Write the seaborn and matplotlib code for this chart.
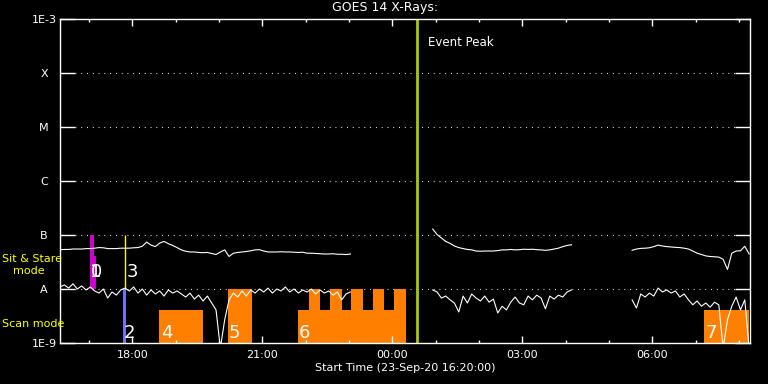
import numpy as np
import pandas as pd
import matplotlib
matplotlib.use("Agg")
import matplotlib.pyplot as plt
import seaborn as sns
from matplotlib.ticker import NullLocator
from matplotlib.transforms import blended_transform_factory

plt.rcParams["font.family"] = ["DejaVu Sans"]

# ---------------- data (hours since 23-Sep-20 16:20) ----------------
t_seg1 = [0.0, 0.1, 0.2, 0.3, 0.4, 0.5, 0.6, 0.7, 0.8, 0.9,
          1.0, 1.1, 1.2, 1.3, 1.4, 1.5, 1.6, 1.7, 1.8, 1.9,
          2.0, 2.1, 2.2, 2.3, 2.4, 2.5, 2.6, 2.7, 2.8, 2.9,
          3.0, 3.1, 3.2, 3.3, 3.4, 3.5, 3.6, 3.7, 3.8, 3.9,
          4.0, 4.1, 4.2, 4.3, 4.4, 4.5, 4.6, 4.7, 4.8, 4.9,
          5.0, 5.1, 5.2, 5.3, 5.4, 5.5, 5.6, 5.7, 5.8, 5.9,
          6.0, 6.1, 6.2, 6.3, 6.4, 6.5, 6.6, 6.7]
long_seg1 = [5.35e-8, 5.4e-8, 5.4e-8, 5.5e-8, 5.5e-8, 5.5e-8, 5.6e-8, 5.6e-8, 5.7e-8, 5.85e-8,
             5.8e-8, 5.6e-8, 5.6e-8, 5.6e-8, 5.7e-8, 5.7e-8, 5.7e-8, 5.8e-8, 5.85e-8, 6.2e-8,
             7.4e-8, 6.5e-8, 6.1e-8, 7.1e-8, 7.6e-8, 6.9e-8, 6.4e-8, 5.85e-8, 5.3e-8, 5.0e-8,
             4.85e-8, 4.85e-8, 4.75e-8, 4.7e-8, 4.75e-8, 4.55e-8, 4.35e-8, 4.85e-8, 5.3e-8, 4.0e-8,
             4.6e-8, 4.75e-8, 4.85e-8, 4.95e-8, 5.1e-8, 5.3e-8, 5.35e-8, 5.05e-8, 4.85e-8, 4.85e-8,
             4.85e-8, 4.9e-8, 4.85e-8, 4.85e-8, 4.8e-8, 4.75e-8, 4.8e-8, 4.6e-8, 4.6e-8, 4.55e-8,
             4.5e-8, 4.45e-8, 4.45e-8, 4.5e-8, 4.4e-8, 4.4e-8, 4.35e-8, 4.45e-8]
short_seg1 = [1.09e-8, 1.19e-8, 1.04e-8, 1.25e-8, 1.0e-8, 1.14e-8, 9.6e-9, 1.09e-8, 9.2e-9, 8.4e-9,
              1.0e-8, 6.8e-9, 8.8e-9, 7.7e-9, 9.6e-9, 1.04e-8, 9.2e-9, 1.09e-8, 8.4e-9, 1.0e-8,
              7.7e-9, 9.6e-9, 8.1e-9, 9.2e-9, 7.4e-9, 9.6e-9, 8.4e-9, 9.2e-9, 8.1e-9, 7.1e-9,
              8.4e-9, 6.5e-9, 7.7e-9, 6.0e-9, 7.4e-9, 5.5e-9, 4.1e-9, 8.0e-10, 2.7e-9, 6.3e-9,
              8.4e-9, 7.1e-9, 9.2e-9, 7.4e-9, 9.6e-9, 8.4e-9, 1.0e-8, 8.8e-9, 1.04e-8, 8.4e-9,
              1.0e-8, 9.2e-9, 1.09e-8, 8.8e-9, 1.0e-8, 8.4e-9, 9.6e-9, 8.8e-9, 1.0e-8, 8.1e-9,
              9.6e-9, 8.4e-9, 9.2e-9, 7.7e-9, 8.8e-9, 6.3e-9, 8.1e-9, 8.8e-9]

t_seg2 = [8.6, 8.7, 8.8, 8.9, 9.0, 9.1, 9.2, 9.3, 9.4, 9.5,
          9.6, 9.7, 9.8, 9.9, 10.0, 10.1, 10.2, 10.3, 10.4, 10.5,
          10.6, 10.7, 10.8, 10.9, 11.0, 11.1, 11.2, 11.3, 11.4, 11.5,
          11.6, 11.7, 11.8]
long_seg2 = [1.29e-7, 1.02e-7, 8.8e-8, 7.6e-8, 7.0e-8, 6.25e-8, 5.85e-8, 5.6e-8, 5.4e-8, 5.3e-8,
             5.05e-8, 5.0e-8, 5.05e-8, 5.05e-8, 5.05e-8, 5.15e-8, 5.3e-8, 5.3e-8, 5.4e-8, 5.3e-8,
             5.35e-8, 5.45e-8, 5.4e-8, 5.45e-8, 5.35e-8, 5.3e-8, 5.2e-8, 5.3e-8, 5.5e-8, 5.7e-8,
             6.1e-8, 6.4e-8, 6.6e-8]
short_seg2 = [9.6e-9, 8.8e-9, 6.8e-9, 7.4e-9, 6.3e-9, 5.5e-9, 3.75e-9, 7.4e-9, 5.5e-9, 8.1e-9,
              6.8e-9, 6.0e-9, 7.4e-9, 5.7e-9, 6.5e-9, 3.6e-9, 4.8e-9, 4.1e-9, 5.7e-9, 7.1e-9,
              5.5e-9, 5.1e-9, 7.4e-9, 6.3e-9, 7.7e-9, 6.8e-9, 4.3e-9, 7.4e-9, 6.5e-9, 7.7e-9,
              7.1e-9, 8.8e-9, 9.6e-9]

t_seg3 = [13.2, 13.3, 13.4, 13.5, 13.6, 13.7, 13.8, 13.9, 14.0, 14.1,
          14.2, 14.3, 14.4, 14.5, 14.6, 14.7, 14.8, 14.9, 15.0, 15.1,
          15.2, 15.3, 15.4, 15.5, 15.6, 15.7, 15.8, 15.9]
long_seg3 = [5.2e-8, 5.5e-8, 5.65e-8, 5.7e-8, 5.8e-8, 6.1e-8, 6.5e-8, 6.25e-8, 6.1e-8, 6.0e-8,
             5.9e-8, 5.85e-8, 5.7e-8, 5.5e-8, 5.05e-8, 4.6e-8, 4.35e-8, 4.1e-8, 4.0e-8, 3.95e-8,
             3.9e-8, 3.55e-8, 2.3e-8, 4.6e-8, 5.05e-8, 5.1e-8, 6.2e-8, 4.45e-8]
short_seg3 = [6.3e-9, 4.45e-9, 8.1e-9, 7.1e-9, 8.4e-9, 7.4e-9, 1.04e-8, 8.8e-9, 9.6e-9, 8.4e-9,
              9.2e-9, 7.1e-9, 8.1e-9, 6.3e-9, 5.1e-9, 6.0e-9, 4.8e-9, 5.5e-9, 4.6e-9, 5.7e-9,
              5.1e-9, 8.0e-10, 2.7e-9, 4.8e-9, 7.1e-9, 4.1e-9, 6.3e-9, 8.0e-10]

# observation events: start, end (hours), flux bottom, flux top, colour
ev_start = [0.69, 0.785, 1.455, 2.285, 3.87, 5.50, 5.746, 6.23, 6.72, 7.22, 7.71, 14.86]
ev_end   = [0.785, 0.825, 1.525, 3.293, 4.424, 7.985, 6.0, 6.51, 7.0, 7.48, 7.985, 15.90]
ev_low   = [1e-8, 1e-8, 1e-9, 1e-9, 1e-9, 1e-9, 1e-9, 1e-9, 1e-9, 1e-9, 1e-9, 1e-9]
ev_high  = [1e-7, 4.1e-8, 1e-8, 4.1e-9, 1e-8, 4.1e-9, 1e-8, 1e-8, 1e-8, 1e-8, 1e-8, 4.1e-9]
ev_color = ["#cc00cc", "#cc00cc", "#7070ff", "#ff8000", "#ff8000", "#ff8000",
            "#ff8000", "#ff8000", "#ff8000", "#ff8000", "#ff8000", "#ff8000"]
line3_t = 1.50
ev_labels = ["1", "0", "3", "2", "4", "5", "6", "7"]
ev_label_t = [0.69, 0.72, 1.546, 1.477, 2.33, 3.90, 5.52, 14.89]
ev_label_y = [2.07e-8, 2.07e-8, 2.07e-8, 1.53e-9, 1.53e-9, 1.53e-9, 1.53e-9, 1.53e-9]

peak_t = 8.23
x_max = 15.92
start_hour = 16 + 20 / 60
major_labels = ["18:00", "21:00", "00:00", "03:00", "06:00"]
y_levels = [1e-9, 1e-8, 1e-7, 1e-6, 1e-5, 1e-4, 1e-3]
y_labels = ["1E-9", "A", "B", "C", "M", "X", "1E-3"]

# ---------------- build frame ----------------
frames = []
for seg, (t, lo, sh) in enumerate([(t_seg1, long_seg1, short_seg1),
                                   (t_seg2, long_seg2, short_seg2),
                                   (t_seg3, long_seg3, short_seg3)]):
    frames.append(pd.DataFrame({"t": t, "flux": lo, "channel": "long", "seg": seg}))
    frames.append(pd.DataFrame({"t": t, "flux": sh, "channel": "short", "seg": seg}))
df = pd.concat(frames, ignore_index=True)
df["unit"] = df["channel"] + df["seg"].astype(str)

# ---------------- figure ----------------
fig = plt.figure(figsize=(7.68, 3.84), dpi=100, facecolor="black")
ax = fig.add_axes([60 / 768, 41 / 384, 690 / 768, 324 / 384])
ax.set_facecolor("black")
ax.set_yscale("log")
ax.set_ylim(1e-9, 1e-3)
ax.set_xlim(0, x_max)

# event rectangles
ax.bar(ev_start, [h - l for h, l in zip(ev_high, ev_low)], bottom=ev_low,
       width=[e - s for s, e in zip(ev_start, ev_end)], align="edge",
       color=ev_color, linewidth=0, zorder=1)
ax.vlines(line3_t, 1e-8, 1e-7, color="#ffff00", lw=1, zorder=1)
for lab, tt, yy in zip(ev_labels, ev_label_t, ev_label_y):
    ax.text(tt, yy, lab, color="white", fontsize=13, ha="left", va="center", zorder=4)

# dotted level lines
for lv in y_levels[1:-1]:
    ax.axhline(lv, xmin=15 / 690, xmax=676 / 690, color="white",
               lw=0.8, ls=(0, (0.8, 4.4)), zorder=0.5)

# GOES curves
sns.lineplot(data=df, x="t", y="flux", units="unit", estimator=None,
             color="white", lw=0.8, ax=ax, legend=False, zorder=3)

# event peak
ax.axvline(peak_t, color="#a8c800", lw=2, zorder=2)
ax.text(peak_t + 0.26, 0.927, "Event Peak", color="white", fontsize=8.5,
        transform=blended_transform_factory(ax.transData, ax.transAxes),
        ha="left", va="center")

# axes styling
for sp in ax.spines.values():
    sp.set_color("white")
    sp.set_linewidth(1)
ax.yaxis.set_minor_locator(NullLocator())
ax.set_yticks(y_levels)
ax.set_yticklabels(y_labels)
for lbl in ax.get_yticklabels():
    lbl.set_ha("center")
ax.tick_params(axis="y", which="major", direction="in", length=10.5, width=1,
               colors="white", left=True, right=True, pad=11.5, labelsize=8)

first = np.ceil(start_hour) - start_hour
hours = [first + k for k in range(int(x_max - first) + 1)]
major_pos = [h for h in hours if int(round(start_hour + h)) % 3 == 0]
ax.set_xticks(major_pos)
ax.set_xticklabels(major_labels)
ax.set_xticks(hours, minor=True)
ax.tick_params(axis="x", which="major", direction="in", length=5, width=1,
               colors="white", top=True, bottom=True, pad=5, labelsize=8)
ax.tick_params(axis="x", which="minor", direction="in", length=2.5, width=1,
               colors="white", top=True, bottom=True)
ax.set_xlabel("")
ax.set_ylabel("")

# texts
fig.text(385 / 768, 1 - 8 / 384, "GOES 14 X-Rays:", color="white", fontsize=9,
         ha="center", va="center")
fig.text(405 / 768, 1 - 368 / 384, "Start Time (23-Sep-20 16:20:00)", color="white",
         fontsize=8, ha="center", va="center")
fig.text(2 / 768, 1 - 259 / 384, "Sit & Stare", color="#ffff00", fontsize=8,
         ha="left", va="center")
fig.text(13 / 768, 1 - 271 / 384, "mode", color="#ffff00", fontsize=8,
         ha="left", va="center")
fig.text(2 / 768, 1 - 324 / 384, "Scan mode", color="#ffff00", fontsize=8,
         ha="left", va="center")

fig.savefig("out.png", dpi=100, facecolor="black")
